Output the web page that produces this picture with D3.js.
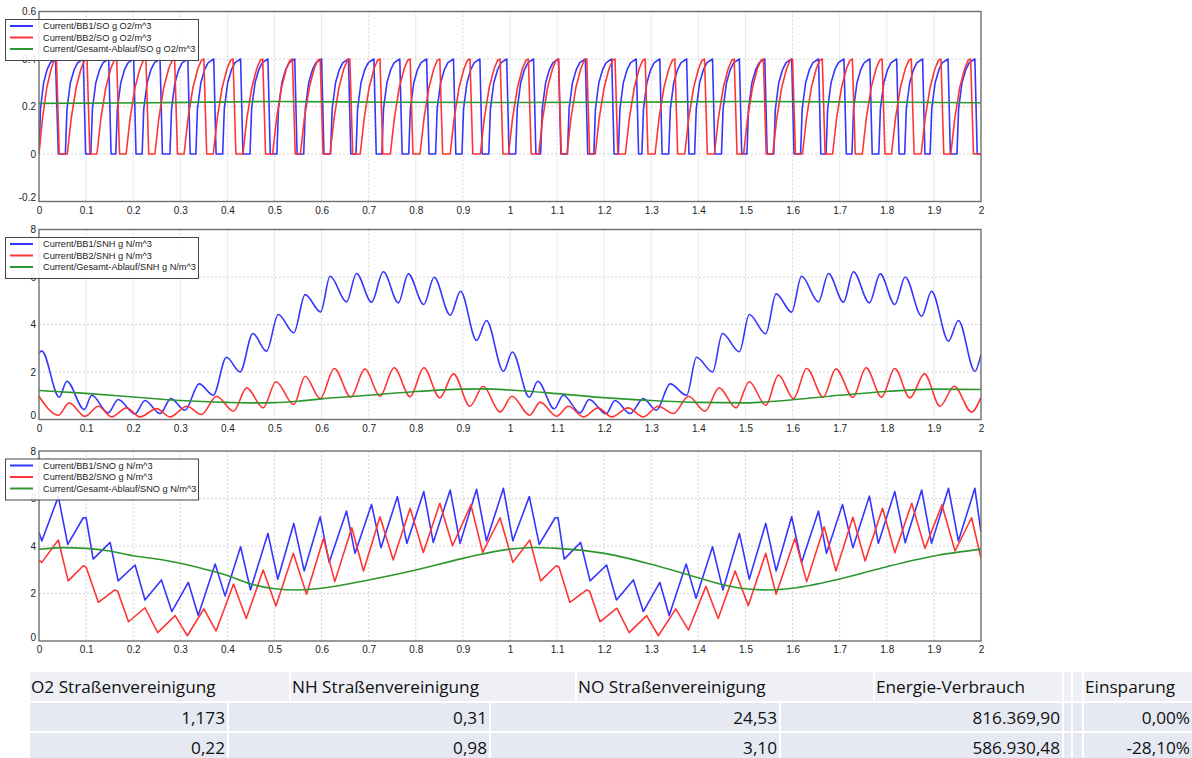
<!DOCTYPE html>
<html>
<head>
<meta charset="utf-8">
<script src="https://cdn.jsdelivr.net/npm/d3@7"></script>
<style>
  body { margin: 0; background: #fff; }
  svg { display: block; }
</style>
</head>
<body>
<svg id="chart" width="1192" height="758"></svg>
<script>
// ---- axis ticks ----
const xTicks = [0, 0.1, 0.2, 0.3, 0.4, 0.5, 0.6, 0.7, 0.8, 0.9, 1, 1.1, 1.2, 1.3, 1.4, 1.5, 1.6, 1.7, 1.8, 1.9, 2];
const soTicks = [-0.2, 0, 0.2, 0.4, 0.6];
const nTicks = [0, 2, 4, 6, 8];

// ---- legend names ----
const soNames = ["Current/BB1/SO g O2/m^3", "Current/BB2/SO g O2/m^3", "Current/Gesamt-Ablauf/SO g O2/m^3"];
const snhNames = ["Current/BB1/SNH g N/m^3", "Current/BB2/SNH g N/m^3", "Current/Gesamt-Ablauf/SNH g N/m^3"];
const snoNames = ["Current/BB1/SNO g N/m^3", "Current/BB2/SNO g N/m^3", "Current/Gesamt-Ablauf/SNO g N/m^3"];

// ---- SO: aeration cycles [rise start, peak (drop start), back at zero] ----
const soBB1Cycles = [
  [0.000, 0.035, 0.041], [0.056, 0.094, 0.099], [0.110, 0.148, 0.153], [0.163, 0.201, 0.206],
  [0.219, 0.257, 0.262], [0.278, 0.316, 0.321], [0.333, 0.371, 0.376], [0.390, 0.428, 0.433],
  [0.448, 0.486, 0.491], [0.505, 0.543, 0.548], [0.562, 0.600, 0.605], [0.619, 0.657, 0.662],
  [0.673, 0.711, 0.716], [0.728, 0.766, 0.771], [0.785, 0.823, 0.828], [0.842, 0.880, 0.885],
  [0.898, 0.936, 0.941], [0.955, 0.993, 0.998], [1.012, 1.050, 1.055], [1.065, 1.103, 1.108],
  [1.122, 1.160, 1.165], [1.178, 1.216, 1.221], [1.230, 1.268, 1.273], [1.280, 1.318, 1.323],
  [1.337, 1.375, 1.380], [1.392, 1.430, 1.435], [1.449, 1.487, 1.492], [1.503, 1.541, 1.546],
  [1.560, 1.598, 1.603], [1.617, 1.655, 1.660], [1.671, 1.709, 1.714], [1.726, 1.764, 1.769],
  [1.783, 1.821, 1.826], [1.838, 1.876, 1.881], [1.892, 1.930, 1.935], [1.949, 1.987, 1.992]
];
const soBB2Cycles = [
  [0.000, 0.037, 0.043], [0.060, 0.102, 0.108], [0.123, 0.165, 0.171], [0.185, 0.227, 0.233],
  [0.246, 0.288, 0.294], [0.308, 0.350, 0.356], [0.370, 0.412, 0.418], [0.433, 0.475, 0.481],
  [0.496, 0.538, 0.544], [0.555, 0.597, 0.603], [0.618, 0.660, 0.666], [0.682, 0.724, 0.730],
  [0.746, 0.788, 0.794], [0.809, 0.851, 0.857], [0.873, 0.915, 0.921], [0.937, 0.979, 0.985],
  [0.997, 1.039, 1.045], [1.061, 1.103, 1.109], [1.121, 1.163, 1.169], [1.181, 1.223, 1.229],
  [1.245, 1.287, 1.293], [1.308, 1.350, 1.356], [1.371, 1.413, 1.419], [1.434, 1.476, 1.482],
  [1.496, 1.538, 1.544], [1.558, 1.600, 1.606], [1.621, 1.663, 1.669], [1.685, 1.727, 1.733],
  [1.748, 1.790, 1.796], [1.810, 1.852, 1.858], [1.873, 1.915, 1.921], [1.936, 1.978, 1.984]
];
// rise profile of one cycle (share of rise time -> O2 level)
const bb1RiseShare = [0, 0.09, 0.28, 0.49, 0.69, 1];
const bb1RiseLevel = [0, 0.19, 0.30, 0.355, 0.385, 0.4];
const bb2RiseShare = [0, 0.2, 0.45, 0.7, 0.88, 1];
const bb2RiseLevel = [0, 0.15, 0.28, 0.36, 0.395, 0.4];
const soGes = [[0, 0.213], [0.25, 0.216], [0.5, 0.221], [0.75, 0.218], [1, 0.217], [1.25, 0.218], [1.5, 0.221], [1.75, 0.219], [2, 0.216]];

// ---- SNH ----
const snhBB1 = [
  [0, 2.81], [0.006, 2.88], [0.043, 0.94], [0.059, 1.61], [0.096, 0.42], [0.112, 1.02], [0.147, 0.28], [0.168, 0.84],
  [0.204, 0.24], [0.225, 0.8], [0.257, 0.25], [0.28, 0.88], [0.31, 0.39], [0.34, 1.5], [0.37, 1.02], [0.398, 2.62],
  [0.427, 2.0], [0.454, 3.62], [0.483, 2.88], [0.508, 4.42], [0.541, 3.65], [0.565, 5.26], [0.598, 4.53], [0.618, 6.03],
  [0.653, 4.95], [0.674, 6.15], [0.706, 4.94], [0.731, 6.22], [0.763, 4.91], [0.784, 6.13], [0.817, 4.84], [0.839, 5.99],
  [0.873, 4.39], [0.895, 5.4], [0.929, 3.33], [0.95, 4.17], [0.986, 2.03], [1.005, 2.84], [1.041, 0.94], [1.059, 1.61],
  [1.094, 0.45], [1.113, 1.02], [1.149, 0.28], [1.168, 0.84], [1.204, 0.24], [1.223, 0.8], [1.255, 0.25], [1.283, 0.88],
  [1.311, 0.39], [1.34, 1.5], [1.375, 1.02], [1.396, 2.62], [1.43, 2.0], [1.451, 3.62], [1.487, 2.85], [1.508, 4.42],
  [1.543, 3.61], [1.565, 5.29], [1.598, 4.52], [1.619, 6.03], [1.655, 4.95], [1.676, 6.15], [1.708, 4.94], [1.729, 6.22],
  [1.763, 4.91], [1.786, 6.13], [1.817, 4.84], [1.839, 6.0], [1.874, 4.35], [1.895, 5.4], [1.931, 3.3], [1.952, 4.17],
  [1.987, 2.03], [2, 2.74]
];
const snhBB2 = [
  [0, 0.98], [0.041, 0.18], [0.064, 0.7], [0.098, 0.13], [0.126, 0.56], [0.154, 0.11], [0.186, 0.49], [0.214, 0.11],
  [0.25, 0.46], [0.278, 0.11], [0.314, 0.56], [0.345, 0.21], [0.377, 0.98], [0.413, 0.35], [0.441, 1.33], [0.476, 0.49],
  [0.503, 1.59], [0.541, 0.63], [0.565, 1.82], [0.597, 0.88], [0.627, 2.15], [0.662, 0.94], [0.692, 2.13], [0.724, 0.98],
  [0.754, 2.18], [0.788, 0.96], [0.817, 2.18], [0.851, 0.91], [0.88, 1.92], [0.915, 0.56], [0.943, 1.4], [0.979, 0.31],
  [1.004, 0.98], [1.042, 0.18], [1.064, 0.73], [1.099, 0.14], [1.124, 0.56], [1.156, 0.11], [1.187, 0.49], [1.216, 0.11],
  [1.251, 0.49], [1.283, 0.11], [1.315, 0.56], [1.347, 0.25], [1.379, 0.98], [1.414, 0.35], [1.444, 1.33], [1.48, 0.49],
  [1.508, 1.59], [1.543, 0.6], [1.57, 1.87], [1.602, 0.88], [1.63, 2.15], [1.665, 0.94], [1.692, 2.13], [1.728, 0.94],
  [1.756, 2.18], [1.789, 0.94], [1.817, 2.15], [1.849, 0.91], [1.88, 1.92], [1.913, 0.56], [1.943, 1.4], [1.98, 0.31],
  [2, 0.94]
];
const snhGes = [
  [0, 1.22], [0.1, 1.1], [0.2, 0.95], [0.3, 0.8], [0.4, 0.72], [0.45, 0.7], [0.5, 0.71], [0.55, 0.77], [0.6, 0.87],
  [0.7, 1.02], [0.8, 1.18], [0.9, 1.28], [0.95, 1.29], [1, 1.24], [1.1, 1.09], [1.2, 0.92], [1.3, 0.8], [1.4, 0.72],
  [1.5, 0.7], [1.6, 0.83], [1.7, 1.02], [1.8, 1.18], [1.9, 1.28], [2, 1.26]
];

// ---- SNO ----
const snoBB1 = [
  [0, 4.58], [0.006, 4.21], [0.041, 6.08], [0.061, 4.07], [0.094, 5.19], [0.1, 5.19], [0.115, 3.45], [0.151, 4.15],
  [0.168, 2.53], [0.204, 3.2], [0.225, 1.73], [0.26, 2.57], [0.282, 1.24], [0.317, 2.47], [0.338, 1.07], [0.374, 3.24],
  [0.395, 1.9], [0.428, 3.97], [0.449, 2.15], [0.486, 4.53], [0.507, 2.6], [0.541, 4.95], [0.563, 2.95], [0.597, 5.23],
  [0.616, 3.31], [0.653, 5.47], [0.671, 3.69], [0.706, 5.75], [0.726, 3.93], [0.761, 6.08], [0.781, 4.11], [0.817, 6.29],
  [0.837, 4.15], [0.873, 6.36], [0.894, 4.11], [0.929, 6.39], [0.95, 4.21], [0.986, 6.43], [1.006, 4.22], [1.041, 6.08],
  [1.062, 4.07], [1.096, 5.19], [1.102, 5.19], [1.115, 3.45], [1.15, 4.15], [1.17, 2.53], [1.205, 3.2], [1.226, 1.73],
  [1.262, 2.57], [1.283, 1.24], [1.318, 2.47], [1.338, 1.07], [1.374, 3.24], [1.395, 1.8], [1.43, 3.97], [1.452, 2.15],
  [1.487, 4.53], [1.508, 2.6], [1.543, 4.95], [1.565, 2.95], [1.598, 5.23], [1.619, 3.31], [1.655, 5.47], [1.672, 3.69],
  [1.706, 5.75], [1.728, 3.93], [1.763, 6.1], [1.782, 4.11], [1.817, 6.29], [1.839, 4.14], [1.874, 6.36], [1.895, 4.11],
  [1.931, 6.43], [1.952, 4.21], [1.987, 6.43], [2, 4.58]
];
const snoBB2 = [
  [0, 3.41], [0.006, 3.31], [0.041, 4.25], [0.062, 2.53], [0.094, 3.17], [0.1, 3.12], [0.126, 1.63], [0.161, 2.15],
  [0.167, 2.1], [0.19, 0.81], [0.225, 1.4], [0.252, 0.35], [0.289, 1.07], [0.315, 0.22], [0.35, 1.35], [0.376, 0.42],
  [0.413, 2.4], [0.44, 0.95], [0.476, 2.99], [0.503, 1.47], [0.54, 3.69], [0.568, 1.97], [0.604, 4.32], [0.628, 2.5],
  [0.664, 4.77], [0.689, 2.95], [0.724, 5.23], [0.752, 3.41], [0.788, 5.59], [0.816, 3.73], [0.851, 5.8], [0.878, 4.01],
  [0.917, 5.73], [0.942, 3.73], [0.979, 5.19], [1.006, 3.31], [1.042, 4.25], [1.065, 2.53], [1.098, 3.17], [1.104, 3.12],
  [1.127, 1.63], [1.163, 2.15], [1.169, 2.1], [1.191, 0.81], [1.227, 1.38], [1.253, 0.35], [1.29, 1.07], [1.315, 0.22],
  [1.352, 1.35], [1.379, 0.46], [1.416, 2.3], [1.442, 0.95], [1.478, 2.95], [1.506, 1.49], [1.543, 3.69], [1.565, 1.97],
  [1.605, 4.32], [1.63, 2.5], [1.667, 4.81], [1.692, 2.95], [1.728, 5.21], [1.754, 3.37], [1.791, 5.59], [1.817, 3.72],
  [1.853, 5.8], [1.881, 3.9], [1.917, 5.73], [1.945, 3.79], [1.98, 5.19], [2, 3.48]
];
const snoGes = [
  [0, 3.86], [0.05, 3.93], [0.1, 3.9], [0.15, 3.79], [0.2, 3.59], [0.25, 3.45], [0.3, 3.27], [0.35, 3.03], [0.4, 2.76],
  [0.45, 2.4], [0.5, 2.2], [0.55, 2.15], [0.6, 2.22], [0.7, 2.57], [0.8, 2.99], [0.9, 3.48], [1, 3.87], [1.05, 3.94],
  [1.1, 3.9], [1.2, 3.69], [1.3, 3.23], [1.4, 2.66], [1.45, 2.38], [1.5, 2.2], [1.55, 2.15], [1.6, 2.22], [1.7, 2.61],
  [1.8, 3.13], [1.9, 3.58], [2, 3.87]
];

// ---- table ----
const tableHeader = ["O2 Straßenvereinigung", "NH Straßenvereinigung", "NO Straßenvereinigung", "Energie-Verbrauch", "", "", "Einsparung"];
const tableRows = [
  ["1,173", "0,31", "24,53", "816.369,90", "", "", "0,00%"],
  ["0,22", "0,98", "3,10", "586.930,48", "", "", "-28,10%"]
];

const colors = ["#3535ff", "#ff3535", "#2e962e"];

// build SO point lists from the cycles
function cyclePoints(cycles, share, level) {
  const pts = [];
  cycles.forEach(c => {
    share.forEach((s, i) => pts.push([c[0] + s * (c[1] - c[0]), level[i]]));
    pts.push([c[2], 0]);
  });
  pts.push([2, 0]);
  return pts;
}

const svg = d3.select("#chart");
const x = d3.scaleLinear().domain([0, 2]).range([39, 981]);
const fmt = d => String(+d.toFixed(1));

const panels = [
  { top: 11.5, bottom: 201.5, domain: [-0.2, 0.6], ticks: soTicks, names: soNames,
    series: [cyclePoints(soBB1Cycles, bb1RiseShare, bb1RiseLevel), cyclePoints(soBB2Cycles, bb2RiseShare, bb2RiseLevel), soGes],
    curves: [d3.curveLinear, d3.curveLinear, d3.curveMonotoneX] },
  { top: 229.5, bottom: 419.5, domain: [0, 8], ticks: nTicks, names: snhNames,
    series: [snhBB1, snhBB2, snhGes], curves: [d3.curveMonotoneX, d3.curveMonotoneX, d3.curveMonotoneX] },
  { top: 451, bottom: 641, domain: [0, 8], ticks: nTicks, names: snoNames,
    series: [snoBB1, snoBB2, snoGes], curves: [d3.curveLinear, d3.curveLinear, d3.curveMonotoneX] }
];

panels.forEach((p, pi) => {
  const y = d3.scaleLinear().domain(p.domain).range([p.bottom, p.top]);
  const g = svg.append("g");

  // grid
  g.selectAll(".gx").data(xTicks.slice(1, -1)).enter().append("line")
    .attr("x1", d => x(d)).attr("x2", d => x(d)).attr("y1", p.top).attr("y2", p.bottom)
    .attr("stroke", "#d4d4d4").attr("stroke-dasharray", "2,2");
  g.selectAll(".gy").data(p.ticks.slice(1, -1)).enter().append("line")
    .attr("x1", x(0)).attr("x2", x(2)).attr("y1", d => y(d)).attr("y2", d => y(d))
    .attr("stroke", "#d4d4d4").attr("stroke-dasharray", "2,2");

  // lines
  svg.append("clipPath").attr("id", "clip" + pi).append("rect")
    .attr("x", x(0)).attr("y", p.top).attr("width", x(2) - x(0)).attr("height", p.bottom - p.top);
  const lg = g.append("g").attr("clip-path", `url(#clip${pi})`);
  p.series.forEach((s, i) => {
    const line = d3.line().x(d => x(d[0])).y(d => y(d[1])).curve(p.curves[i]);
    lg.append("path").attr("d", line(s)).attr("fill", "none")
      .attr("stroke", colors[i]).attr("stroke-width", 1.6).attr("stroke-linejoin", "round");
  });

  // frame
  g.append("rect").attr("x", x(0)).attr("y", p.top).attr("width", x(2) - x(0)).attr("height", p.bottom - p.top)
    .attr("fill", "none").attr("stroke", "#6e6e6e").attr("stroke-width", 1.4);

  // axes labels
  const yAxis = d3.axisLeft(y).tickValues(p.ticks).tickSize(0).tickPadding(0).tickFormat(fmt);
  const ya = g.append("g").attr("transform", `translate(${x(0) - 3},0)`).call(yAxis);
  ya.select(".domain").remove();
  ya.selectAll("text").attr("font-family", "Liberation Sans, Arial, sans-serif").attr("font-size", 10).attr("fill", "#222")
    .attr("dy", (d, i) => i === 0 ? "-0.1em" : "0.32em");

  const xAxis = d3.axisBottom(x).tickValues(xTicks).tickSize(0).tickPadding(5).tickFormat(fmt);
  const xa = g.append("g").attr("transform", `translate(0,${p.bottom})`).call(xAxis);
  xa.select(".domain").remove();
  xa.selectAll("text").attr("font-family", "Liberation Sans, Arial, sans-serif").attr("font-size", 10).attr("fill", "#222");

  // legend
  const lgTop = p.top + 8;
  const leg = g.append("g");
  leg.append("rect").attr("x", 5.5).attr("y", lgTop).attr("width", 193).attr("height", 41)
    .attr("fill", "#fff").attr("fill-opacity", 0.88).attr("stroke", "#444").attr("stroke-width", 1);
  p.names.forEach((n, i) => {
    const ly = lgTop + 6.5 + i * 11.5;
    leg.append("line").attr("x1", 10).attr("x2", 33).attr("y1", ly).attr("y2", ly)
      .attr("stroke", colors[i]).attr("stroke-width", 2);
    leg.append("text").attr("x", 43).attr("y", ly + 3.2).text(n)
      .attr("font-family", "Liberation Sans, Arial, sans-serif").attr("font-size", 9.2).attr("fill", "#222");
  });
});

// ---- table ----
const headCells = [[30, 289], [291, 575], [577, 873], [875, 1062], [1064, 1071], [1073, 1082], [1084, 1192]];
const rowCells = [[30, 227], [229, 489], [491, 779], [781, 1062], [1064, 1071], [1073, 1082], [1084, 1192]];
const tg = svg.append("g").attr("font-family", "Open Sans, sans-serif").attr("font-size", 17.2).attr("fill", "#111");

tg.selectAll(".hc").data(headCells).enter().append("rect")
  .attr("x", d => d[0]).attr("y", 672).attr("width", d => d[1] - d[0]).attr("height", 29).attr("fill", "#eef0f5");
tg.selectAll(".ht").data(tableHeader).enter().append("text")
  .attr("x", (d, i) => headCells[i][0] + 1).attr("y", 693).text(d => d);

tableRows.forEach((row, r) => {
  const top = 703 + r * 30;
  tg.selectAll(".rc" + r).data(rowCells).enter().append("rect")
    .attr("x", d => d[0]).attr("y", top).attr("width", d => d[1] - d[0]).attr("height", 28).attr("fill", "#e6e9f1");
  tg.selectAll(".rt" + r).data(row).enter().append("text")
    .attr("x", (d, i) => rowCells[i][1] - 2).attr("y", top + 21).attr("text-anchor", "end").text(d => d);
});
</script>
</body>
</html>
